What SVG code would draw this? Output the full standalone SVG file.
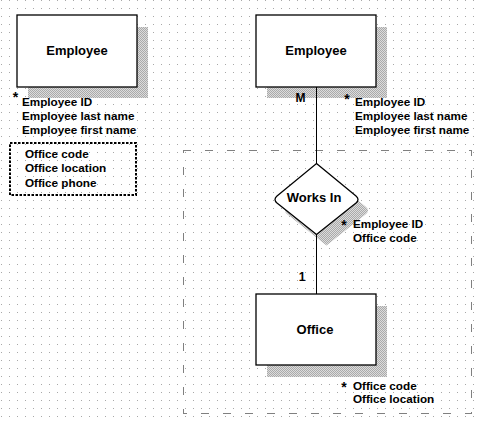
<svg xmlns="http://www.w3.org/2000/svg" width="481" height="422" viewBox="0 0 481 422">
<defs>
<pattern id="grid" width="8" height="8" patternUnits="userSpaceOnUse"><rect x="1" y="0" width="1" height="1" fill="#a8a8a8"/></pattern>
<pattern id="shade" width="2" height="2" patternUnits="userSpaceOnUse"><rect width="2" height="2" fill="#dcdcdc"/><rect x="0" y="0" width="1" height="1" fill="#aaaaaa"/><rect x="1" y="1" width="1" height="1" fill="#aaaaaa"/></pattern>
<style>
.box{fill:#fff;stroke:#000;stroke-width:1.3}
.shadow{fill:url(#shade)}
.title{font-family:"Liberation Sans",Arial,sans-serif;font-weight:bold;font-size:13px;text-anchor:middle;fill:#000}
.attr{font-family:"Liberation Sans",Arial,sans-serif;font-weight:bold;font-size:11.7px;fill:#000}
.star{font-family:"Liberation Sans",Arial,sans-serif;font-weight:bold;font-size:14px;text-anchor:middle;fill:#000}
.card{font-family:"Liberation Sans",Arial,sans-serif;font-weight:bold;font-size:12px;text-anchor:middle;fill:#000}
.conn{stroke:#000;stroke-width:1;fill:none}
</style>
</defs>
<rect width="481" height="422" fill="#fff"/>
<rect width="481" height="422" fill="url(#grid)"/>

<g id="region">
<rect x="183.5" y="150.5" width="288" height="263" fill="none" stroke="#000" stroke-width="1" stroke-dasharray="1 1 1 1 1 1 1 15"/>
</g>

<g id="employee-left">
<rect class="shadow" x="28" y="27" width="120" height="71"/>
<rect class="box" x="17" y="15" width="120" height="72"/>
<text class="title" x="77" y="55">Employee</text>
<text class="star" x="15.5" y="102">*</text>
<text class="attr" x="22" y="106">Employee ID</text>
<text class="attr" x="22" y="120">Employee last name</text>
<text class="attr" x="22" y="134">Employee first name</text>
</g>

<g id="office-attrs-left">
<rect x="10" y="143" width="126" height="52" fill="none" stroke="#000" stroke-width="2" stroke-dasharray="2.5 1.5"/>
<text class="attr" x="25" y="158">Office code</text>
<text class="attr" x="25" y="172">Office location</text>
<text class="attr" x="25" y="186.5">Office phone</text>
</g>

<g id="employee">
<rect class="shadow" x="267" y="27" width="120" height="71"/>
<rect class="box" x="256" y="15" width="120" height="72"/>
<text class="title" x="316" y="55">Employee</text>
<text class="star" x="347" y="104">*</text>
<text class="attr" x="355" y="106">Employee ID</text>
<text class="attr" x="355" y="120">Employee last name</text>
<text class="attr" x="355" y="134">Employee first name</text>
</g>

<g id="works-in">
<path class="shadow" transform="translate(10,11)" d="M316.5,163.5 L356,196 Q360,199.5 356,203 L316.5,234.5 L277,203 Q273,199.5 277,196 Z"/>
<path class="box" d="M316.5,163.5 L356,196 Q360,199.5 356,203 L316.5,234.5 L277,203 Q273,199.5 277,196 Z"/>
<text class="title" x="314" y="202">Works In</text>
<text class="star" x="344" y="230">*</text>
<text class="attr" x="353" y="228">Employee ID</text>
<text class="attr" x="353" y="241.5">Office code</text>
</g>

<g id="office">
<rect class="shadow" x="267" y="306" width="120" height="71"/>
<rect class="box" x="256" y="294" width="120" height="71"/>
<text class="title" x="315" y="333.5">Office</text>
<text class="star" x="344" y="392">*</text>
<text class="attr" x="353" y="390">Office code</text>
<text class="attr" x="353" y="402.5">Office location</text>
</g>

<g id="connectors">
<line class="conn" x1="316.5" y1="87" x2="316.5" y2="164"/>
<line class="conn" x1="316.5" y1="234" x2="316.5" y2="294"/>
<text class="card" x="300.5" y="102">M</text>
<text class="card" x="302" y="280.5">1</text>
</g>
</svg>
